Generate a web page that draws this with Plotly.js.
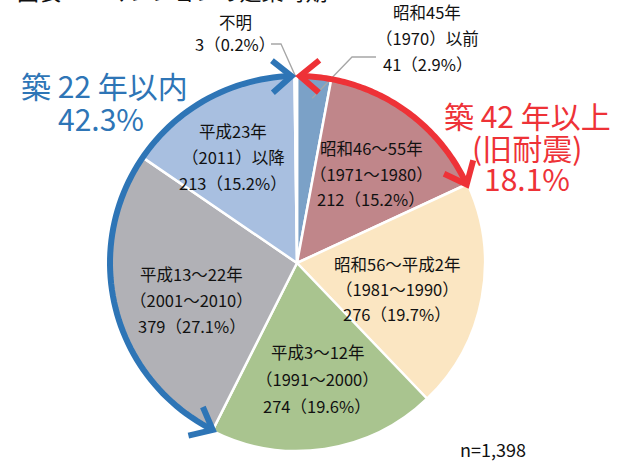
<!DOCTYPE html>
<html><head><meta charset="utf-8">
<script src="https://cdn.plot.ly/plotly-3.0.1.min.js"></script>
<style>html,body{margin:0;padding:0;background:#fff}</style>
</head><body><div id="chart" style="width:625px;height:461px"></div>
<script>
// ---- data ----
const chartTitle = '図表21　マンションの建築時期';
const categories = ['昭和45年以前','昭和46～55年','昭和56～平成2年','平成3～12年','平成13～22年','平成23年以降','不明'];
const periodLines = ['昭和45年','昭和46～55年','昭和56～平成2年','平成3～12年','平成13～22年','平成23年','不明'];
const yearRanges = ['（1970）以前','（1971～1980）','（1981～1990）','（1991～2000）','（2001～2010）','（2011）以降',''];
const counts = [41,212,276,274,379,213,3];
const percents = [2.9,15.2,19.7,19.6,27.1,15.2,0.2];
const totalLabel = 'n=1,398';
const oldGroupLines = ['築 42 年以上','(旧耐震)','18.1%'];
const oldGroupSlices = [0,1];
const newGroupLines = ['築 22 年以内','42.3%'];
const newGroupSlices = [4,5];

// ---- styling / layout ----
const W = 625, H = 461;
const CX = 297, CY = 263, R = 188;
const colors = ['#7ba1c7','#c0868a','#fbe6c2','#a9c48f','#b1b1b6','#a8bfe0','#eef1f5'];
const labelPos = [ // [x, y of first line, line spacing] in px
  [427,12,26],[371,148,25.5],[397,264,25],[317,352,27],[192,274,26],[233,131,26],[235,22,22]
];
const FONT = '"Noto Sans CJK JP", "Noto Sans", sans-serif';
const BLUE = '#2e75b6', RED = '#ee3237';

const px = (x) => x / W;
const py = (y) => 1 - y / H;
const P = (x,y) => px(x).toFixed(5) + ',' + py(y).toFixed(5);

const total = counts.reduce((a,b)=>a+b,0);
const cum = [0]; counts.forEach((c,i)=>cum.push(cum[i]+c));
const ang = (v) => v / total * 360;
const pt = (a, r) => [CX + r*Math.sin(a*Math.PI/180), CY - r*Math.cos(a*Math.PI/180)];

const shapes = [];
const annotations = [];

function arcShape(a0, a1, color) {
  const rr = R - 1;
  let d = '';
  const n = 80;
  for (let i=0;i<=n;i++){
    const a = a0 + (a1-a0)*i/n;
    const p = pt(a, rr);
    d += (i===0?'M':'L') + P(p[0],p[1]);
  }
  shapes.push({type:'path', xref:'paper', yref:'paper', path:d, line:{color:color,width:6}});
  const heads = [[a1, 1],[a0, -1]];
  heads.forEach(([a, s])=>{
    const t = pt(a, rr);
    const rad = a*Math.PI/180;
    const dx = s*Math.cos(rad), dy = s*Math.sin(rad);
    const L = 25, th = 40*Math.PI/180;
    const wing = (sg) => {
      const c = Math.cos(sg*th), sn = Math.sin(sg*th);
      const rx = dx*c - dy*sn, ry = dx*sn + dy*c;
      return [t[0]-L*rx, t[1]-L*ry];
    };
    const w1 = wing(1), w2 = wing(-1);
    shapes.push({type:'path', xref:'paper', yref:'paper',
      path:'M'+P(w1[0],w1[1])+'L'+P(t[0],t[1])+'L'+P(w2[0],w2[1]),
      line:{color:color,width:6}});
  });
}

function addText(text, x, y, size, color, extra) {
  annotations.push(Object.assign({text:text, xref:'paper', yref:'paper', x:px(x), y:py(y),
    xanchor:'center', yanchor:'middle', showarrow:false,
    font:{family:FONT, size:size, color:color}}, extra||{}));
}

// slice labels
categories.forEach((c,i)=>{
  const [x,y,sp] = labelPos[i];
  const lines = [periodLines[i]];
  if (yearRanges[i]) lines.push(yearRanges[i]);
  lines.push(counts[i] + '（' + percents[i].toFixed(1) + '%）');
  lines.forEach((t,k)=> addText(t, x, y + k*sp, 16.5, '#111'));
});

// leader lines for the small slices
(function(){
  const aU = ang(cum[6] + counts[6]/2);
  const eU = pt(aU, R*0.99);
  shapes.push({type:'path', xref:'paper', yref:'paper', path:'M'+P(271,44)+'L'+P(281,44)+'L'+P(eU[0],eU[1]), line:{color:'#a6a6a6',width:1.3}});
  const a0 = ang(cum[0] + counts[0]/2);
  const e0 = pt(a0, R*0.88);
  shapes.push({type:'path', xref:'paper', yref:'paper', path:'M'+P(376,57)+'L'+P(352,57)+'L'+P(e0[0],e0[1]), line:{color:'#a6a6a6',width:1.3}});
})();

// group arcs
const gap = 0.9;
arcShape(ang(cum[newGroupSlices[0]]), ang(cum[newGroupSlices[newGroupSlices.length-1]+1]) - gap, BLUE);
arcShape(ang(cum[oldGroupSlices[0]]) + gap, ang(cum[oldGroupSlices[oldGroupSlices.length-1]+1]), RED);

// group labels
addText(newGroupLines[0], 104, 85, 30, BLUE);
addText(newGroupLines[1], 101, 118, 30, BLUE);
addText(oldGroupLines[0], 527, 115, 30, RED);
addText(oldGroupLines[1], 527, 147, 30, RED);
addText(oldGroupLines[2], 527, 178, 30, RED);

addText(totalLabel, 493, 449, 18, '#111');
addText(chartTitle, 172, -10, 22, '#111');

const trace = {
  type:'pie', labels:categories, values:counts, sort:false, direction:'clockwise', rotation:0,
  marker:{colors:colors, line:{color:'#ffffff', width:2.5}},
  textinfo:'none', hoverinfo:'label+value+percent',
  domain:{x:[(CX-R)/W,(CX+R)/W], y:[1-(CY+R)/H, 1-(CY-R)/H]}
};

Plotly.newPlot('chart',[trace],{
  width:W, height:H, margin:{l:0,r:0,t:0,b:0},
  paper_bgcolor:'#ffffff', showlegend:false,
  shapes:shapes, annotations:annotations
},{displayModeBar:false, staticPlot:true});
</script></body></html>
